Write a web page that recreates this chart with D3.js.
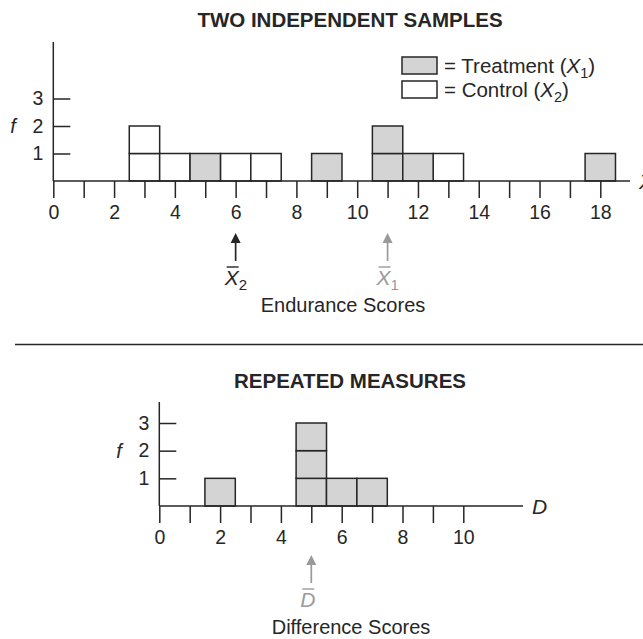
<!DOCTYPE html>
<html>
<head>
<meta charset="utf-8">
<script src="https://cdn.jsdelivr.net/npm/d3@7"></script>
<style>
  html, body { margin: 0; padding: 0; background: #fff; }
  svg { display: block; font-family: "Liberation Sans", Arial, Helvetica, sans-serif; }
</style>
</head>
<body>
<svg id="chart" width="643" height="639"></svg>
<script>
// ---- data ----
const controlScores = [3, 3, 4, 6, 7, 13];          // X2 (white boxes)
const treatmentScores = [5, 9, 11, 11, 12, 18];     // X1 (gray boxes)
const differenceScores = [2, 5, 5, 5, 6, 7];        // D (gray boxes)
const topXTicks = d3.range(0, 19);
const topXLabels = [0, 2, 4, 6, 8, 10, 12, 14, 16, 18];
const botXTicks = d3.range(0, 11);
const botXLabels = [0, 2, 4, 6, 8, 10];
const fTicks = [1, 2, 3];
const titles = ["TWO INDEPENDENT SAMPLES", "REPEATED MEASURES"];
const axisTitles = ["Endurance Scores", "Difference Scores"];

const INK = "#262626", GRAY = "#9a9a9a", FILL = "#d4d4d4";
const FONT = "Liberation Sans, Arial, sans-serif";

const svg = d3.select("#chart");
svg.append("rect").attr("width", 643).attr("height", 639).attr("fill", "#fff");

function stackBoxes(series) {
  const counts = {};
  const out = [];
  series.forEach(s => s.values.forEach(v => {
    const k = counts[v] || 0;
    counts[v] = k + 1;
    out.push({ value: v, level: k, fill: s.fill });
  }));
  return out;
}

function drawPanel(cfg) {
  const g = svg.append("g");
  const x = cfg.x, y = cfg.y;
  const x0 = x.range()[0], yb = y.range()[0];

  g.selectAll("rect.box").data(cfg.boxes).join("rect")
    .attr("class", "box")
    .attr("x", d => x(d.value - 0.5))
    .attr("y", d => y(d.level + 1))
    .attr("width", d => x(d.value + 0.5) - x(d.value - 0.5))
    .attr("height", d => y(d.level) - y(d.level + 1))
    .attr("fill", d => d.fill)
    .attr("stroke", INK)
    .attr("stroke-width", 1.5);

  const xa = g.append("g").attr("transform", `translate(0,${yb})`)
    .call(d3.axisBottom(x).tickValues(cfg.xTicks).tickSize(17).tickSizeOuter(0)
      .tickPadding(7)
      .tickFormat(d => cfg.xLabels.includes(d) ? d : ""));
  xa.select(".domain").remove();
  xa.selectAll(".tick line").attr("stroke", INK).attr("stroke-width", 1.5);
  xa.selectAll(".tick text").attr("fill", INK).style("font-size", "19.5px")
    .style("font-family", FONT);
  g.append("line").attr("x1", x0).attr("x2", cfg.axisEnd)
    .attr("y1", yb).attr("y2", yb).attr("stroke", INK).attr("stroke-width", 1.5);
  g.append("text").attr("x", cfg.axisEnd + 9).attr("y", yb + 8)
    .attr("font-style", "italic").attr("font-size", 21).attr("fill", INK)
    .text(cfg.axisVar);

  const ya = g.append("g").attr("transform", `translate(${x0},0)`)
    .call(d3.axisLeft(y).tickValues(fTicks).tickSize(-17).tickSizeOuter(0).tickPadding(10)
      .tickFormat(d3.format("d")));
  ya.select(".domain").remove();
  ya.selectAll(".tick line").attr("stroke", INK).attr("stroke-width", 1.5);
  ya.selectAll(".tick text").attr("fill", INK).style("font-size", "19.5px")
    .style("font-family", FONT);
  g.append("line").attr("x1", x0).attr("x2", x0)
    .attr("y1", yb).attr("y2", cfg.yTop).attr("stroke", INK).attr("stroke-width", 1.5);
  g.append("text").attr("x", x0 - 43).attr("y", y(2) + 7)
    .attr("font-style", "italic").attr("font-size", 20).attr("fill", INK).text("f");

  g.append("text").attr("x", cfg.titleX).attr("y", cfg.titleY)
    .attr("text-anchor", "middle").attr("font-weight", "bold").attr("font-size", 20.5)
    .attr("fill", INK).text(cfg.title);

  g.append("text").attr("x", cfg.axisTitleX).attr("y", cfg.axisTitleY)
    .attr("text-anchor", "middle").attr("font-size", 20).attr("fill", INK)
    .text(cfg.axisTitle);

  cfg.means.forEach(m => {
    const mx = x(m.value);
    g.append("line").attr("x1", mx).attr("x2", mx)
      .attr("y1", cfg.arrowTip + 9).attr("y2", cfg.arrowTip + 28)
      .attr("stroke", m.color).attr("stroke-width", 1.7);
    g.append("path")
      .attr("d", `M${mx},${cfg.arrowTip} L${mx - 5},${cfg.arrowTip + 10} L${mx + 5},${cfg.arrowTip + 10} Z`)
      .attr("fill", m.color);
    const lx = mx - 11;
    const base = cfg.arrowTip + 52;
    const t = g.append("text").attr("x", lx).attr("y", base)
      .attr("font-size", 21).attr("fill", m.color);
    t.append("tspan").attr("font-style", "italic").text(m.letter);
    if (m.sub) t.append("tspan").attr("font-size", 15).attr("dy", 5).text(m.sub);
    g.append("line").attr("x1", lx + 2).attr("x2", lx + 14)
      .attr("y1", base - 18).attr("y2", base - 18)
      .attr("stroke", m.color).attr("stroke-width", 1.4);
  });
  return g;
}

// top panel
const xTop = d3.scaleLinear().domain([0, 18]).range([53.3, 600.3]);
const yTop = d3.scaleLinear().domain([0, 3]).range([181, 98.5]);
drawPanel({
  x: xTop, y: yTop, xTicks: topXTicks, xLabels: topXLabels,
  boxes: stackBoxes([{ values: controlScores, fill: "#fff" }, { values: treatmentScores, fill: FILL }]),
  axisEnd: 630, axisVar: "X", yTop: 42,
  title: titles[0], titleX: 350, titleY: 27,
  axisTitle: axisTitles[0], axisTitleX: 343, axisTitleY: 312,
  arrowTip: 233,
  means: [
    { value: d3.mean(controlScores), color: INK, letter: "X", sub: "2" },
    { value: d3.mean(treatmentScores), color: GRAY, letter: "X", sub: "1" }
  ]
});

// legend
const legend = svg.append("g");
const legendItems = [
  { fill: FILL, label: "Treatment", sub: "1" },
  { fill: "#fff", label: "Control", sub: "2" }
];
legendItems.forEach((d, i) => {
  const ly = 57 + i * 24;
  legend.append("rect").attr("x", 402).attr("y", ly).attr("width", 35).attr("height", 17)
    .attr("fill", d.fill).attr("stroke", INK).attr("stroke-width", 1.5);
  const t = legend.append("text").attr("x", 444).attr("y", ly + 15.5)
    .attr("font-size", 20.5).attr("fill", INK);
  t.append("tspan").text(`= ${d.label} (`);
  t.append("tspan").attr("font-style", "italic").text("X");
  t.append("tspan").attr("font-size", 14.5).attr("dy", 5).text(d.sub);
  t.append("tspan").attr("dy", -5).text(")");
});

// separator
svg.append("line").attr("x1", 15).attr("x2", 643).attr("y1", 344.5).attr("y2", 344.5)
  .attr("stroke", INK).attr("stroke-width", 1.5);

// bottom panel
const xBot = d3.scaleLinear().domain([0, 10]).range([159.3, 463.3]);
const yBot = d3.scaleLinear().domain([0, 3]).range([506, 423]);
drawPanel({
  x: xBot, y: yBot, xTicks: botXTicks, xLabels: botXLabels,
  boxes: stackBoxes([{ values: differenceScores, fill: FILL }]),
  axisEnd: 523, axisVar: "D", yTop: 402,
  title: titles[1], titleX: 350, titleY: 388,
  axisTitle: axisTitles[1], axisTitleX: 351, axisTitleY: 634,
  arrowTip: 555,
  means: [
    { value: d3.mean(differenceScores), color: GRAY, letter: "D", sub: null }
  ]
});
</script>
</body>
</html>
